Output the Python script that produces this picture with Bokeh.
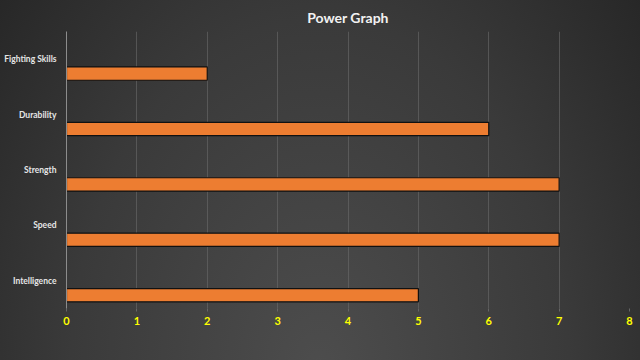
from bokeh.plotting import figure
from bokeh.models import FixedTicker, Legend, LegendItem, Range1d
from bokeh.transform import dodge
from bokeh.embed import file_html
from bokeh.resources import INLINE

categories = ["Intelligence", "Speed", "Strength", "Durability", "Fighting Skills"]
series1 = [5, 7, 7, 6, 2]
column1 = [0, 0, 0, 0, 0]
series3 = [0, 0, 0, 0, 0]
x_ticks = [0, 1, 2, 3, 4, 5, 6, 7, 8]

p = figure(frame_width=563, frame_height=277, y_range=categories, x_range=Range1d(0, 8),
           output_backend="svg", toolbar_location=None,
           title="Power Graph",
           min_border_left=66, min_border_right=11, min_border_top=31, min_border_bottom=0)
p.styles = {"background": "radial-gradient(ellipse at 50% 45%, #4d4d4d 0%, #3a3a3a 55%, #232323 100%)"}
p.background_fill_alpha = 0
p.border_fill_alpha = 0
p.outline_line_alpha = 0

p.title.align = "center"
p.title.text_color = "#f2f2f2"
p.title.text_font = "Lato"
p.title.text_font_size = "14px"
p.title.text_font_style = "bold"
p.title.standoff = 11

src = dict(cat=categories, s1=series1, c1=column1, s3=series3)
r3 = p.hbar(y=dodge("cat", 0.26, range=p.y_range), left=0, right="s3", height=0.24,
            source=src, fill_color="#a5a5a5", line_alpha=0)
rc = p.hbar(y=dodge("cat", 0.0, range=p.y_range), left=0, right="c1", height=0.24,
            source=src, fill_color="#ed7d31", line_alpha=0)
r1 = p.hbar(y=dodge("cat", -0.26, range=p.y_range), left=0, right="s1", height=0.24,
            source=src, fill_color="#ed7d31", line_color="#111111", line_width=1.2)

p.xaxis.ticker = FixedTicker(ticks=x_ticks)
p.xaxis.axis_line_alpha = 0
p.xaxis.major_tick_line_color = "#666666"
p.xaxis.major_tick_out = 3
p.xaxis.major_tick_in = 0
p.xaxis.minor_tick_line_alpha = 0
p.xaxis.major_label_text_color = "#ffff00"
p.xaxis.major_label_text_font = "Lato"
p.xaxis.major_label_text_font_style = "bold"
p.xaxis.major_label_text_font_size = "11px"
p.xaxis.major_label_standoff = 5

p.yaxis.axis_line_color = "#8c8c8c"
p.yaxis.major_tick_line_alpha = 0
p.yaxis.minor_tick_line_alpha = 0
p.yaxis.major_label_text_color = "#e6e6e6"
p.yaxis.major_label_text_font = "Lato"
p.yaxis.major_label_text_font_style = "bold"
p.yaxis.major_label_text_font_size = "8.5px"
p.yaxis.major_label_standoff = 4

p.ygrid.grid_line_alpha = 0
p.xgrid.grid_line_color = "#6a6a6a"
p.xgrid.grid_line_alpha = 0.6

legend = Legend(items=[LegendItem(label="Series 3", renderers=[r3]),
                       LegendItem(label="Column1", renderers=[rc]),
                       LegendItem(label="Series 1", renderers=[r1])],
                orientation="horizontal", location="center",
                background_fill_alpha=0, border_line_alpha=0,
                label_text_color="#bfbfbf", label_text_font="Lato",
                label_text_font_size="8px", glyph_width=6, glyph_height=6,
                label_standoff=3, spacing=8, padding=0, margin=0,
                label_height=8)
p.add_layout(legend, "below")

open("out.html", "w").write(file_html(p, INLINE))
